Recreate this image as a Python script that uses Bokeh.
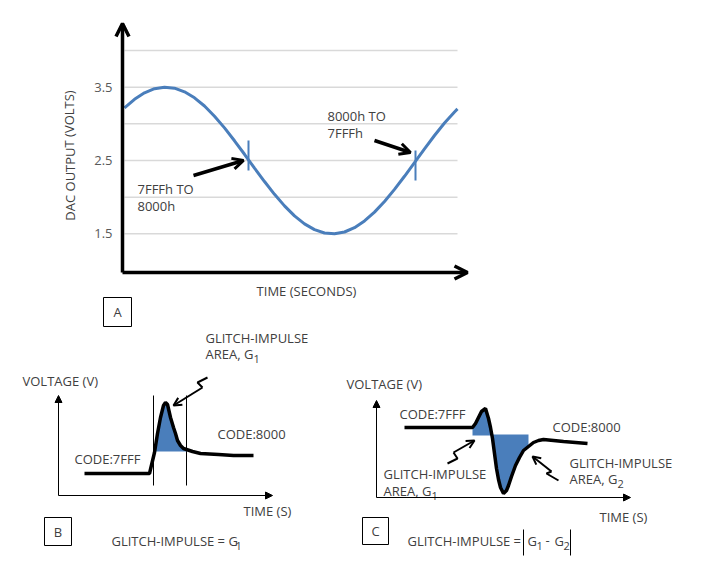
from bokeh.plotting import figure
from bokeh.layouts import column, row
from bokeh.models import Arrow, OpenHead, NormalHead, Range1d
from bokeh.core.properties import value
from bokeh.embed import file_html
from bokeh.resources import INLINE

FONT = value("Open Sans")
TXT = "#404040"
BLUE = "#4a7ebb"

# ---------------- Panel A data (time in arbitrary units, DAC output in volts)
time_a = [2, 12, 22, 32, 42, 52, 62, 72, 82, 92, 102, 112, 122, 132, 142, 152, 162,
          172, 182, 192, 202, 212, 222, 232, 242, 252, 262, 272, 282, 292, 302, 312,
          322, 332, 335]
volts_a = [3.217, 3.335, 3.423, 3.479, 3.500, 3.486, 3.437, 3.355, 3.243, 3.104, 2.945,
           2.769, 2.585, 2.397, 2.213, 2.039, 1.881, 1.745, 1.636, 1.557, 1.511, 1.501,
           1.525, 1.584, 1.676, 1.796, 1.941, 2.106, 2.285, 2.472, 2.659, 2.841, 3.011,
           3.162, 3.204]
grid_volts = [1.5, 2.0, 2.5, 3.0, 3.5, 4.0]
tick_volts = [1.5, 2.5, 3.5]
tick_labels = ["1.5", "2.5", "3.5"]
trans_time = [126, 293]
trans_lo = [2.364, 2.227]
trans_hi = [2.773, 2.636]
trans_text = [["7FFFh TO", "8000h"], ["8000h TO", "7FFFh"]]

# ---------------- Panel B data (schematic units)
time_b = [26, 91, 96, 99, 102, 105, 107, 109, 112, 115, 117, 119, 122, 125, 128, 134, 142, 160, 175, 195]
volt_b = [22, 22, 43, 62, 78, 90, 93, 91, 78, 68, 62, 55, 50, 47, 46, 44, 42, 41, 40, 40]
fill_b_t = [95, 96, 99, 102, 105, 107, 109, 112, 115, 117, 119, 122, 125, 128, 128]
fill_b_v = [44, 44, 62, 78, 90, 93, 91, 78, 68, 62, 55, 50, 47, 46, 44]
window_b = [95, 128]

# ---------------- Panel C data (schematic units)
time_c = [28, 96, 99, 102, 105, 109, 112, 114, 116, 118, 120, 122, 124, 127, 130, 132, 135,
          139, 143, 147, 152, 157, 162, 167, 177, 187, 199, 211]
volt_c = [70, 70, 74, 80, 86, 89, 79, 70, 59, 44, 29, 18, 10, 4, 7, 12, 21,
          32, 40, 47, 51, 55, 57, 58, 57, 56, 55, 54]
fill_c1_t = [96, 96, 99, 102, 105, 109, 112, 114, 115]
fill_c1_v = [62, 70, 74, 80, 86, 89, 79, 70, 62]
fill_c2_t = [115, 116, 118, 120, 122, 124, 127, 130, 132, 135, 139, 143, 147, 152, 152]
fill_c2_v = [63, 59, 44, 29, 18, 10, 4, 7, 12, 21, 32, 40, 47, 51, 63]


def make_fig(w, h, xr, yr):
    p = figure(width=w, height=h, x_range=Range1d(*xr), y_range=Range1d(*yr),
               output_backend="svg", toolbar_location=None,
               x_axis_location=None, y_axis_location=None, min_border=0)
    p.outline_line_color = None
    p.grid.visible = False
    p.background_fill_color = "white"
    p.border_fill_color = "white"
    return p


def txt(p, x, y, s, size="13px", color=TXT, align="left", angle=0.0):
    p.text(x=[x], y=[y], text=[s], text_font=FONT, text_font_size=size,
           text_color=color, text_align=align, text_baseline="middle", angle=angle)


def sub_text(p, x, y, main, sub, main_w, size="13px"):
    txt(p, x, y, main, size=size)
    p.text(x=[x + main_w], y=[y - 1], text=[sub], text_font=FONT, text_font_size="11px",
           text_color=TXT, text_align="left", text_baseline="top")


# ================= Panel A =================
K = 3.0 / 220.0  # volts per pixel
pa = make_fig(707, 330, (-122, 585), (2.5 - 170 * K, 2.5 + 160 * K))

pa.segment(x0=[2] * len(grid_volts), x1=[335] * len(grid_volts), y0=grid_volts, y1=grid_volts,
           line_color="#d9d9d9", line_width=1.5)
pa.line(time_a, volts_a, line_color=BLUE, line_width=3)
pa.segment(x0=trans_time, x1=trans_time, y0=trans_lo, y1=trans_hi, line_color=BLUE, line_width=2)

x_axis_v = 2.5 - 112 * K
pa.add_layout(Arrow(end=OpenHead(size=13, line_width=3.5, line_color="black"),
                    x_start=0, y_start=x_axis_v, x_end=0, y_end=2.5 + 137 * K,
                    line_width=3.5, line_color="black"))
pa.add_layout(Arrow(end=OpenHead(size=13, line_width=3.5, line_color="black"),
                    x_start=0, y_start=x_axis_v, x_end=345, y_end=x_axis_v,
                    line_width=3.5, line_color="black"))

pa.text(x=[-10] * 3, y=tick_volts, text=tick_labels, text_font=FONT, text_font_size="13px",
        text_color="#595959", text_align="right", text_baseline="middle")
txt(pa, -53, 2.5 + 5 * K, "DAC OUTPUT (VOLTS)", align="center", angle=1.5708)
txt(pa, 184, 2.5 - 130 * K, "TIME (SECONDS)", align="center")

pa.add_layout(Arrow(end=OpenHead(size=11, line_width=3, line_color="black"),
                    x_start=71, y_start=2.5 - 15 * K, x_end=121, y_end=2.5,
                    line_width=3.5, line_color="black"))
pa.add_layout(Arrow(end=OpenHead(size=11, line_width=3, line_color="black"),
                    x_start=252, y_start=2.5 + 20 * K, x_end=288, y_end=2.5 + 8 * K,
                    line_width=3.5, line_color="black"))
txt(pa, 15, 2.5 - 28 * K, trans_text[0][0])
txt(pa, 15, 2.5 - 45 * K, trans_text[0][1])
txt(pa, 205, 2.5 + 45 * K, trans_text[1][0])
txt(pa, 205, 2.5 + 28 * K, trans_text[1][1])

pa.quad(left=[-19], right=[9], bottom=[2.5 - 166 * K], top=[2.5 - 137 * K],
        fill_color=None, line_color="black", line_width=1)
txt(pa, -5, 2.5 - 151 * K, "A", align="center")

# ================= Panel B =================
pb = make_fig(320, 245, (-58, 262), (-80, 165))
pb.add_layout(Arrow(end=NormalHead(size=7, fill_color="black", line_color="black"),
                    x_start=0, y_start=0, x_end=0, y_end=100, line_width=1))
pb.add_layout(Arrow(end=NormalHead(size=7, fill_color="black", line_color="black"),
                    x_start=0, y_start=0, x_end=214, y_end=0, line_width=1))
pb.segment(x0=window_b, x1=window_b, y0=[10, 10], y1=[100, 100], line_color="black", line_width=1)
pb.patch(fill_b_t, fill_b_v, fill_color=BLUE, line_color=None)
pb.line(time_b, volt_b, line_color="black", line_width=3.5)
pb.line([149, 139, 144], [118, 113, 108], line_color="black", line_width=2)
pb.add_layout(Arrow(end=OpenHead(size=8, line_width=2, line_color="black"),
                    x_start=144, y_start=108, x_end=115, y_end=90, line_width=2))

sub_text(pb, 147, 142, "AREA, G", "1", 48)
txt(pb, 147, 158, "GLITCH-IMPULSE")
txt(pb, -36, 115, "VOLTAGE (V)")
txt(pb, 185, -15, "TIME (S)")
txt(pb, 16, 37, "CODE:7FFF")
txt(pb, 159, 62, "CODE:8000")
pb.quad(left=[-14], right=[13], bottom=[-50], top=[-22], fill_color=None, line_color="black")
txt(pb, -0.5, -36, "B", align="center")
sub_text(pb, 53, -45, "GLITCH-IMPULSE = G", "1", 124)

# ================= Panel C =================
pc = make_fig(387, 245, (-56, 331), (-78, 167))
pc.add_layout(Arrow(end=NormalHead(size=7, fill_color="black", line_color="black"),
                    x_start=0, y_start=0, x_end=0, y_end=97, line_width=1))
pc.add_layout(Arrow(end=NormalHead(size=7, fill_color="black", line_color="black"),
                    x_start=0, y_start=0, x_end=254, y_end=0, line_width=1))
pc.patch(fill_c1_t, fill_c1_v, fill_color=BLUE, line_color=None)
pc.patch(fill_c2_t, fill_c2_v, fill_color=BLUE, line_color=None)
pc.line(time_c, volt_c, line_color="black", line_width=3.5)
pc.line([71, 81, 77], [34, 39, 45], line_color="black", line_width=2)
pc.add_layout(Arrow(end=OpenHead(size=8, line_width=2, line_color="black"),
                    x_start=77, y_start=45, x_end=98, y_end=57, line_width=2))
pc.line([182, 170, 175], [17, 24, 26], line_color="black", line_width=2)
pc.add_layout(Arrow(end=OpenHead(size=8, line_width=2, line_color="black"),
                    x_start=175, y_start=26, x_end=156, y_end=41, line_width=2))

txt(pc, -30, 114, "VOLTAGE (V)")
txt(pc, 223, -19, "TIME (S)")
txt(pc, 23, 84, "CODE:7FFF")
txt(pc, 176, 71, "CODE:8000")
txt(pc, 7, 24, "GLITCH-IMPULSE")
sub_text(pc, 7, 7, "AREA, G", "1", 48)
txt(pc, 193, 35, "GLITCH-IMPULSE")
sub_text(pc, 193, 19, "AREA, G", "2", 48)
pc.quad(left=[-14], right=[12], bottom=[-47], top=[-20], fill_color=None, line_color="black")
txt(pc, -1, -33, "C", align="center")
txt(pc, 31, -43, "GLITCH-IMPULSE =")
pc.segment(x0=[147, 194], x1=[147, 194], y0=[-32, -32], y1=[-58, -58], line_color="black", line_width=1)
sub_text(pc, 151, -43, "G", "1", 9)
txt(pc, 169, -43, "-")
sub_text(pc, 178, -43, "G", "2", 9)

layout = column(pa, row(pb, pc))
open("out.html", "w").write(file_html(layout, INLINE))
